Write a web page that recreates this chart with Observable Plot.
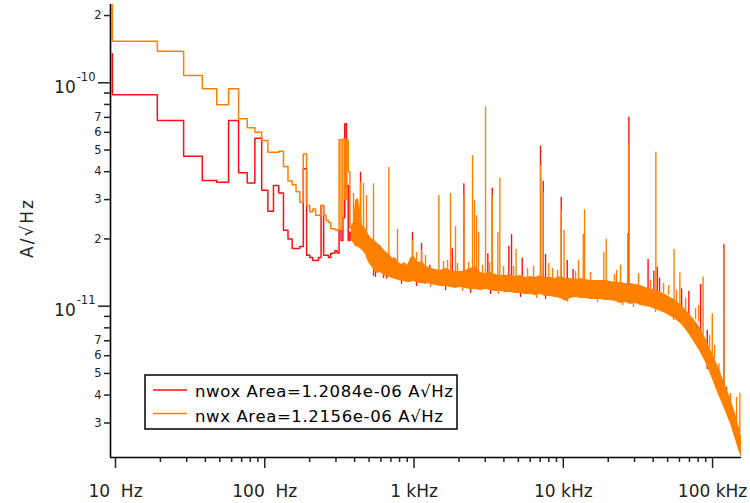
<!DOCTYPE html>
<html><head><meta charset="utf-8">
<script src="https://cdn.jsdelivr.net/npm/d3@7"></script>
<script src="https://cdn.jsdelivr.net/npm/@observablehq/plot@0.6"></script>
<style>
html,body{margin:0;padding:0;background:#fff;}
#chart{width:750px;height:503px;}
</style>
</head><body><div id="chart"></div>
<script>
// All amplitude values in units of 1e-11 A/√Hz; frequencies in Hz.
// Low-frequency FFT bins (first entry = DC value drawn at first bin)
const lowFreq = [9.537, 9.537, 19.07, 28.61, 38.15, 47.68, 57.22, 66.76, 76.29, 85.83, 95.37, 104.9, 114.4, 124.0, 133.5, 143.1, 152.6, 162.1, 171.7, 181.2, 190.7, 200.3, 209.8, 219.3, 228.9, 238.4, 248.0, 257.5, 267.0, 276.6, 286.1, 295.6, 305.2, 314.7, 324.2, 333.8, 343.3, 352.9, 362.4, 371.9, 381.5];
const nwoxLow = [13.5, 8.84, 6.78, 4.69, 3.65, 3.59, 6.78, 3.96, 3.56, 5.65, 3.30, 2.66, 3.47, 3.21, 2.19, 2.00, 1.81, 1.81, 1.85, 4.12, 1.69, 1.65, 1.60, 1.60, 1.65, 2.82, 1.69, 1.69, 1.65, 1.72, 1.73, 1.77, 1.73, 2.18, 1.97, 2.49, 6.55, 3.47, 1.97, 2.14, 2.00];
const nwxLow = [23.0, 15.36, 13.85, 10.78, 9.40, 7.97, 9.40, 6.90, 6.29, 6.01, 5.52, 4.89, 4.89, 4.94, 4.22, 3.63, 3.50, 3.25, 2.92, 4.80, 2.82, 2.65, 2.72, 2.55, 2.55, 2.82, 2.55, 2.42, 2.37, 2.22, 2.22, 2.20, 2.18, 5.56, 2.22, 5.60, 3.00, 5.55, 4.00, 2.25, 2.20];

// Dense part: envelope of the noise band (nwx on top)
const bandFreq = [381.3, 393.3, 405.5, 424.7, 451.8, 473.2, 495.6, 519.1, 543.6, 569.4, 596.4, 624.6, 654.2, 685.2, 717.6, 751.6, 787.4, 824.6, 863.7, 904.6, 947.5, 992.4, 1039, 1089, 1140, 1194, 1251, 1310, 1394, 1505, 1626, 1756, 1897, 2049, 2213, 2391, 2583, 2790, 3014, 3255, 3517, 3798, 4103, 4432, 4787, 5171, 5586, 6034, 6518, 7040, 7605, 8215, 8874, 9585, 10354, 11184, 12082, 13050, 14098, 15226, 16448, 17766, 19192, 20730, 22394, 24190, 26130, 28220, 30490, 32930, 35570, 38420, 41500, 44830, 48430, 52310, 56510, 61040, 65940, 71220, 76940, 83100, 89780, 96970, 104740, 113150, 122220, 132020, 142620, 151680, 156250];
const bandHi = [2.297, 2.369, 2.976, 3.04, 2.297, 2.227, 2.093, 2.009, 1.968, 1.908, 1.869, 1.794, 1.740, 1.703, 1.634, 1.652, 1.569, 1.537, 1.569, 1.521, 1.634, 1.686, 1.601, 1.569, 1.585, 1.521, 1.490, 1.475, 1.460, 1.445, 1.475, 1.445, 1.430, 1.430, 1.445, 1.475, 1.505, 1.415, 1.400, 1.415, 1.386, 1.372, 1.372, 1.386, 1.358, 1.372, 1.344, 1.358, 1.344, 1.372, 1.344, 1.344, 1.330, 1.358, 1.330, 1.330, 1.316, 1.330, 1.316, 1.303, 1.303, 1.303, 1.303, 1.290, 1.277, 1.277, 1.264, 1.264, 1.251, 1.238, 1.212, 1.200, 1.176, 1.152, 1.128, 1.094, 1.060, 1.018, 0.967, 0.909, 0.854, 0.795, 0.717, 0.640, 0.571, 0.505, 0.442, 0.386, 0.328, 0.284, 0.261];
const bandLo = [1.968, 1.908, 1.850, 1.831, 1.776, 1.703, 1.569, 1.505, 1.445, 1.400, 1.415, 1.372, 1.358, 1.344, 1.330, 1.316, 1.303, 1.290, 1.290, 1.277, 1.277, 1.290, 1.277, 1.264, 1.264, 1.251, 1.264, 1.251, 1.238, 1.225, 1.225, 1.212, 1.200, 1.212, 1.200, 1.187, 1.187, 1.176, 1.187, 1.176, 1.163, 1.163, 1.152, 1.152, 1.140, 1.140, 1.128, 1.128, 1.117, 1.128, 1.105, 1.105, 1.094, 1.083, 1.050, 1.083, 1.094, 1.083, 1.083, 1.071, 1.071, 1.071, 1.060, 1.060, 1.050, 1.028, 1.039, 1.018, 1.028, 1.007, 0.997, 0.987, 0.967, 0.947, 0.927, 0.899, 0.872, 0.837, 0.786, 0.732, 0.674, 0.620, 0.560, 0.494, 0.432, 0.382, 0.338, 0.296, 0.251, 0.221, 0.210];

// nwx spectral lines (peak value and the band level they rise from)
const spikeFreq = [393.3, 438.2, 458.9, 480.7, 535.4, 678, 775.5, 977, 1123, 1466, 1756, 1897, 2157, 2466, 2543, 2623, 2705, 3014, 3342, 3644, 3758, 4824, 7040, 7339, 8003, 9689, 10118, 12657, 13606, 13882, 18697, 19402, 24190, 27490, 41700, 55220, 60390, 86370, 99540, 110240, 119040, 132020, 144840, 152380];
const spikeTop = [3.195, 3.589, 3.543, 3.129, 3.53, 4.177, 2.205, 1.968, 1.776, 3.129, 3.195, 2.274, 3.129, 4.727, 2.976, 2.547, 2.137, 7.779, 3.129, 2.137, 3.741, 1.794, 4.264, 3.228, 1.553, 2.68, 2.18, 1.601, 2.093, 2.70, 1.745, 1.995, 1.529, 5.333, 4.89, 1.794, 1.408, 1.351, 0.925, 0.552, 1.831, 0.407, 0.391, 0.408];
const spikeBase = [2.07, 2.18, 2.18, 2.07, 1.87, 1.69, 1.57, 1.52, 1.475, 1.415, 1.415, 1.40, 1.40, 1.415, 1.415, 1.415, 1.40, 1.372, 1.372, 1.358, 1.358, 1.33, 1.33, 1.33, 1.303, 1.303, 1.29, 1.29, 1.29, 1.29, 1.264, 1.264, 1.238, 1.238, 1.14, 1.04, 1.007, 0.739, 0.602, 0.465, 0.419, 0.359, 0.308, 0.272];
// small nwx excursions above / below the band (noise texture)
const smallUpFreq = [1039, 1194, 1576, 1677, 1956, 2318, 2877, 3205, 3979, 4643, 5762, 6321, 8472, 9153, 12082, 15226, 22050, 22750, 31930, 38420, 46960, 50730, 57410, 65940, 76940, 80600, 95480, 103130];
const smallUpTop = [1.740, 1.686, 1.585, 1.601, 1.553, 1.569, 1.521, 1.569, 1.505, 1.505, 1.475, 1.505, 1.475, 1.445, 1.430, 1.415, 1.386, 1.445, 1.400, 1.303, 1.264, 1.238, 1.176, 1.083, 0.977, 1.007, 0.739, 0.667];
const smallUpBase = [1.60, 1.52, 1.445, 1.445, 1.43, 1.43, 1.40, 1.40, 1.37, 1.37, 1.34, 1.34, 1.33, 1.33, 1.31, 1.30, 1.27, 1.27, 1.23, 1.19, 1.14, 1.12, 1.05, 0.96, 0.87, 0.85, 0.65, 0.58];
const smallDownFreq = [1290, 2113, 3684, 6620, 10680, 16960, 24950, 29560, 41500, 54810];
const smallDownVal = [1.212, 1.164, 1.128, 1.083, 1.039, 1.039, 1.007, 0.987, 0.937, 0.863];
const smallDownBase = [1.30, 1.25, 1.22, 1.20, 1.15, 1.15, 1.10, 1.10, 1.05, 0.95];

// nwox spectral lines visible above nwx
const redSpikeFreq = [438.2, 977, 1123, 1276, 1803, 2157, 3122, 3342, 4317, 4501, 5309, 7040, 7339, 7605, 9689, 10629, 11627, 27160, 27490, 36980, 40440, 42610, 44150, 61990, 69380, 83100, 92150, 119040, 123540];
const redSpikeTop = [3.979, 2.137, 1.908, 1.521, 1.806, 3.53, 1.716, 3.375, 1.850, 2.093, 1.640, 5.203, 3.627, 1.703, 3.075, 1.601, 1.460, 2.122, 7.015, 1.618, 1.434, 1.495, 1.335, 1.194, 1.163, 1.251, 0.778, 1.883, 0.434];
const redSpikeBase = [2.18, 1.52, 1.475, 1.40, 1.415, 1.40, 1.372, 1.372, 1.35, 1.35, 1.33, 1.33, 1.33, 1.303, 1.303, 1.29, 1.29, 1.238, 1.238, 1.176, 1.152, 1.152, 1.105, 0.95, 0.86, 0.70, 0.52, 0.419, 0.378];
// nwox minima visible below the nwx band
const redDipFreq = [535.4, 552, 624.6, 654.2, 824.6, 1039, 1626, 2391, 3255, 5171, 7605];
const redDipVal = [1.36, 1.344, 1.330, 1.32, 1.251, 1.225, 1.176, 1.140, 1.128, 1.094, 1.071];
const redDipBase = [1.6, 1.6, 1.5, 1.5, 1.4, 1.4, 1.35, 1.35, 1.3, 1.3, 1.25];

// Axis ticks and labels
const yMinorTicks = [0.3, 0.4, 0.5, 0.6, 0.7, 0.8, 0.9, 2, 3, 4, 5, 6, 7, 8, 9, 20];
const yMinorLabels = ["3", "4", "5", "6", "7", "", "", "2", "3", "4", "5", "6", "7", "", "", "2"];
const yMajorTicks = [1, 10];
const yMajorLabels = ["10^-11", "10^-10"];
const xMajorTicks = [10, 100, 1000, 10000, 100000];
const xMajorLabels = ["10\u00a0 Hz", "100\u00a0 Hz", "1 kHz", "10 kHz", "100 kHz"];
const xMinorTicks = [20, 30, 40, 50, 60, 70, 80, 90, 200, 300, 400, 500, 600, 700, 800, 900, 2000, 3000, 4000, 5000, 6000, 7000, 8000, 9000, 20000, 30000, 40000, 50000, 60000, 70000, 80000, 90000];
const seriesNames = ["nwox Area=1.2084e-06 A\u221AHz", "nwx Area=1.2156e-06 A\u221AHz"];

const RED = "#ff1010", ORANGE = "#ff8000";
const xDomain = [9.26, 156250];
const yDomain = [0.2102, 22.41];

const low = lowFreq.map((f, i) => ({f, nwox: nwoxLow[i], nwx: nwxLow[i]}));
const band = bandFreq.map((f, i) => ({f, lo: bandLo[i], hi: bandHi[i]}));
const spikes = spikeFreq.map((f, i) => ({f, top: spikeTop[i], base: spikeBase[i]}));
const smallUp = smallUpFreq.map((f, i) => ({f, top: smallUpTop[i], base: smallUpBase[i]}));
const smallDown = smallDownFreq.map((f, i) => ({f, top: smallDownVal[i], base: smallDownBase[i]}));
const rSpikes = redSpikeFreq.map((f, i) => ({f, top: redSpikeTop[i], base: redSpikeBase[i]}));
const rDips = redDipFreq.map((f, i) => ({f, dip: redDipVal[i], base: redDipBase[i]}));
const minorLab = yMinorTicks.map((v, i) => ({v, s: yMinorLabels[i]})).filter(d => d.s);
const majorLab = yMajorTicks.map((v, i) => ({v, s: yMajorLabels[i]}));

const chart = Plot.plot({
  width: 750, height: 503,
  marginLeft: 110, marginRight: 9, marginTop: 4, marginBottom: 46,
  x: {type: "log", domain: xDomain, label: null},
  y: {type: "log", domain: yDomain, label: null},
  style: {fontFamily: "'DejaVu Sans', sans-serif", color: "#222", background: "#fff"},
  marks: [
    Plot.ruleX(rDips, {x: "f", y1: "base", y2: "dip", stroke: RED, strokeWidth: 1.3}),
    Plot.ruleX(rSpikes, {x: "f", y1: "base", y2: "top", stroke: RED, strokeWidth: 1.4}),
    Plot.line(low, {x: "f", y: "nwox", curve: "step-after", stroke: RED, strokeWidth: 1.5, clip: true}),
    Plot.areaY(band, {x: "f", y1: "lo", y2: "hi", curve: "linear", fill: ORANGE}),
    Plot.ruleX(smallUp, {x: "f", y1: "base", y2: "top", stroke: ORANGE, strokeWidth: 1.4}),
    Plot.ruleX(smallDown, {x: "f", y1: "base", y2: "top", stroke: ORANGE, strokeWidth: 1.4}),
    Plot.line(low, {x: "f", y: "nwx", curve: "step-after", stroke: ORANGE, strokeWidth: 1.5, clip: true}),
    Plot.ruleX(spikes, {x: "f", y1: "base", y2: "top", stroke: ORANGE, strokeWidth: 1.4}),
    Plot.ruleX([xDomain[0]], {stroke: "#000", strokeWidth: 1.6}),
    Plot.ruleY([yDomain[0]], {stroke: "#000", strokeWidth: 1.6}),
    Plot.axisY({anchor: "left", ticks: yMinorTicks, tickSize: 6, strokeWidth: 1.5, tickFormat: () => ""}),
    Plot.axisY({anchor: "left", ticks: yMajorTicks, tickSize: 12, strokeWidth: 1.5, tickFormat: () => ""}),
    Plot.text(minorLab, {x: () => xDomain[0], y: "v", text: "s", dx: -9, textAnchor: "end", fontSize: 11.5, fill: "#222"}),
    Plot.text(majorLab, {x: () => xDomain[0], y: "v", text: "s", dx: -15, textAnchor: "end", fontSize: 17, fill: "#222"}),
    Plot.axisX({anchor: "bottom", ticks: xMinorTicks, tickSize: 5, strokeWidth: 1.5, tickFormat: () => ""}),
    Plot.axisX({anchor: "bottom", ticks: xMajorTicks, tickSize: 11, tickPadding: 16, fontSize: 17, strokeWidth: 1.5,
      tickFormat: d => xMajorLabels[xMajorTicks.indexOf(d)]})
  ]
});

const svg = d3.select(chart);
// superscript exponents on decade labels
svg.selectAll("text").each(function () {
  const m = /^10\^(-?\d+)$/.exec(this.textContent);
  if (m) {
    const t = d3.select(this);
    t.text(null).attr("dy", 4.5);
    t.append("tspan").text("10");
    t.append("tspan").attr("dy", -12).attr("dx", 1).attr("font-size", 11.5).text(m[1]);
  }
});
// y axis title
svg.append("text")
  .attr("transform", "translate(33,229) rotate(-90)")
  .attr("text-anchor", "middle")
  .attr("font-size", 17).attr("fill", "#222")
  .attr("textLength", 58)
  .text("A/\u221AHz");
// legend
const lg = svg.append("g").attr("font-family", "'DejaVu Sans', sans-serif");
lg.append("rect").attr("x", 145).attr("y", 375).attr("width", 312).attr("height", 54)
  .attr("fill", "#fff").attr("stroke", "#000").attr("stroke-width", 1.5);
[[RED, 390, 396.5, 258], [ORANGE, 413.5, 421.5, 248]].forEach(([c, ly, ty, tl], i) => {
  lg.append("line").attr("x1", 153).attr("x2", 187).attr("y1", ly).attr("y2", ly)
    .attr("stroke", c).attr("stroke-width", 1.5);
  lg.append("text").attr("x", 195).attr("y", ty).attr("font-size", 16.5).attr("fill", "#000")
    .attr("text-anchor", "start")
    .attr("textLength", tl).attr("lengthAdjust", "spacing").text(seriesNames[i]);
});
document.getElementById("chart").appendChild(chart);
</script>
</body></html>
